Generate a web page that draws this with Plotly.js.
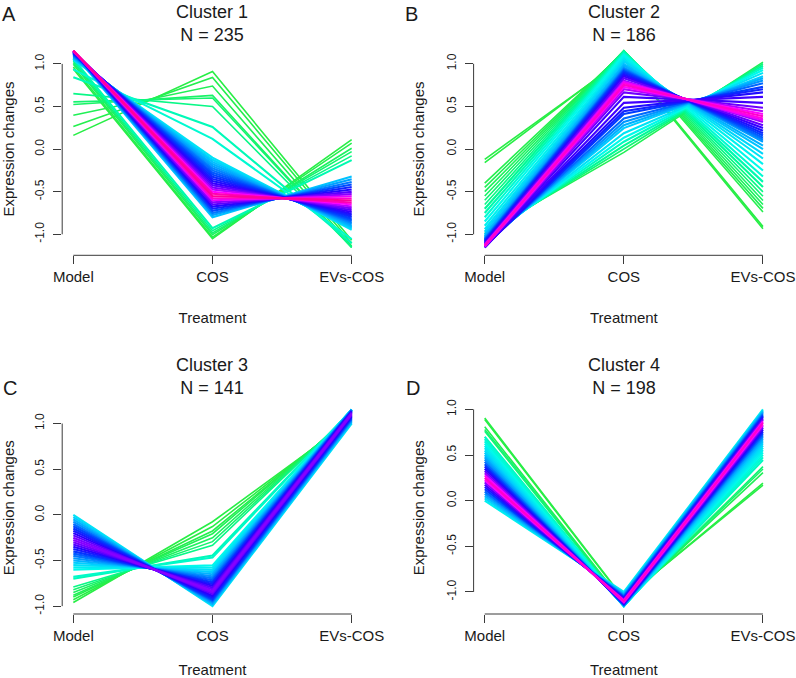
<!DOCTYPE html>
<html>
<head>
<meta charset="utf-8">
<script src="https://cdn.plot.ly/plotly-3.0.1.min.js"></script>
<style>
html,body{margin:0;padding:0;background:#ffffff;}
#chart{width:796px;height:678px;}
</style>
</head>
<body>
<div id="chart"></div>
<script>
// ---------------- data ----------------
const treatments = ["Model", "COS", "EVs-COS"];
const clusterNames = ["Cluster 1", "Cluster 2", "Cluster 3", "Cluster 4"];
const clusterSizes = [235, 186, 141, 198];
const panelLetters = ["A", "B", "C", "D"];
const yTickValues = [-1, -0.5, 0, 0.5, 1];
const yTickLabels = ["-1.0", "-0.5", "0.0", "0.5", "1.0"];
const xAxisTitle = "Treatment";
const yAxisTitle = "Expression changes";

// Cluster 1 (one entry per drawn profile)
const c1Model = [1.046,1.057,1.067,1.076,1.085,1.093,1.101,1.109,1.116,1.122,1.128,1.133,1.138,1.142,1.146,1.149,1.151,1.153,1.154,1.155,1.154,1.153,1.152,1.149,1.145,1.141,1.135,1.129,1.121,
  0.161,0.266,0.398,0.523,0.554,0.651,0.844,0.935,
  0.940,0.963,0.995,1.015,1.038,1.059];
const c1COS = [-0.100,-0.125,-0.150,-0.175,-0.200,-0.225,-0.250,-0.275,-0.300,-0.325,-0.350,-0.375,-0.400,-0.425,-0.450,-0.475,-0.500,-0.525,-0.550,-0.575,-0.600,-0.625,-0.650,-0.675,-0.700,-0.725,-0.750,-0.775,-0.800,
  0.910,0.840,0.740,0.630,0.600,0.500,0.260,0.120,
  -1.050,-1.033,-1.005,-0.985,-0.958,-0.929];
const c1EVs = [-0.946,-0.932,-0.917,-0.901,-0.885,-0.868,-0.851,-0.834,-0.816,-0.797,-0.778,-0.758,-0.738,-0.717,-0.696,-0.674,-0.651,-0.628,-0.604,-0.580,-0.554,-0.528,-0.502,-0.474,-0.445,-0.416,-0.385,-0.354,-0.321,
  -1.071,-1.106,-1.138,-1.153,-1.154,-1.151,-1.104,-1.055,
  0.110,0.070,0.010,-0.030,-0.080,-0.130];
const c1Membership = [0.45,0.48,0.52,0.55,0.58,0.62,0.65,0.68,0.71,0.74,0.77,0.80,0.83,0.86,0.89,0.92,0.95,0.98,0.99,0.97,0.94,0.90,0.86,0.81,0.76,0.70,0.64,0.58,0.52,
  0.20,0.21,0.22,0.24,0.25,0.28,0.34,0.37,
  0.20,0.21,0.23,0.25,0.28,0.33];

// Cluster 2
const c2Model = [-1.154,-1.150,-1.145,-1.140,-1.135,-1.130,-1.125,-1.120,-1.110,-1.100,-1.090,-1.080,-1.070,-1.060,-1.050,-1.040,-1.020,-1.000,-0.970,-0.940,-0.900,-0.850,-0.800,-0.750,-0.700,-0.650,-0.600,-0.550,-0.500,-0.450,-0.400,-0.160,-0.120,
  -1.154,-1.150,-1.145,-1.140,-1.130,-1.120,-1.110,-1.100,-1.080,-1.060,-1.040,-1.020,-1.000,-0.980];
const c2COS = [0.612,0.665,0.702,0.729,0.751,0.771,0.788,0.803,0.831,0.854,0.875,0.894,0.911,0.927,0.941,0.955,0.979,1.000,1.028,1.051,1.077,1.102,1.121,1.135,1.145,1.152,1.154,1.154,1.151,1.146,1.138,1.070,1.055,
  0.542,0.485,0.443,0.411,0.359,0.317,0.279,0.246,0.186,0.133,0.086,0.041,0.000,-0.039];
const c2EVs = [0.542,0.485,0.443,0.411,0.384,0.359,0.337,0.317,0.279,0.246,0.215,0.186,0.159,0.133,0.109,0.086,0.041,0.000,-0.058,-0.111,-0.177,-0.252,-0.321,-0.385,-0.445,-0.502,-0.554,-0.604,-0.651,-0.696,-0.738,-0.910,-0.935,
  0.612,0.665,0.702,0.729,0.771,0.803,0.831,0.854,0.894,0.927,0.955,0.979,1.000,1.019];
const c2Membership = [0.84,0.88,0.92,0.95,0.97,0.96,0.94,0.91,0.87,0.83,0.79,0.75,0.71,0.67,0.63,0.59,0.55,0.52,0.48,0.45,0.42,0.40,0.37,0.33,0.30,0.28,0.26,0.24,0.23,0.22,0.21,0.20,0.20,
  0.84,0.80,0.76,0.72,0.66,0.60,0.55,0.50,0.45,0.40,0.35,0.30,0.26,0.22];

// Cluster 3
const c3Model = [0.000,-0.025,-0.050,-0.075,-0.100,-0.125,-0.150,-0.175,-0.200,-0.225,-0.250,-0.275,-0.300,-0.325,-0.350,-0.375,-0.400,-0.425,-0.450,-0.475,-0.500,-0.525,-0.550,-0.575,-0.600,
  -0.680,-0.700,-0.790,-0.820,-0.850,-0.880,-0.900,-0.930,-0.960];
const c3COS = [-1.000,-0.987,-0.974,-0.960,-0.946,-0.932,-0.917,-0.901,-0.885,-0.868,-0.851,-0.834,-0.816,-0.797,-0.778,-0.758,-0.738,-0.717,-0.696,-0.674,-0.651,-0.628,-0.604,-0.580,-0.554,
  -0.468,-0.445,-0.334,-0.294,-0.252,-0.207,-0.177,-0.128,-0.076];
const c3EVs = [1.000,1.012,1.024,1.035,1.046,1.057,1.067,1.076,1.085,1.093,1.101,1.109,1.116,1.122,1.128,1.133,1.138,1.142,1.146,1.149,1.151,1.153,1.154,1.155,1.154,
  1.148,1.145,1.124,1.114,1.102,1.087,1.077,1.058,1.036];
const c3Membership = [0.45,0.50,0.55,0.60,0.65,0.70,0.74,0.78,0.82,0.86,0.89,0.90,0.88,0.85,0.81,0.77,0.73,0.68,0.64,0.60,0.55,0.50,0.46,0.43,0.40,
  0.36,0.34,0.28,0.25,0.23,0.22,0.21,0.20,0.20];

// Cluster 4
const c4Model = [0.000,0.025,0.050,0.075,0.100,0.125,0.150,0.175,0.200,0.225,0.250,0.275,0.300,0.325,0.350,0.375,0.400,0.425,0.450,0.475,0.500,0.525,0.550,0.575,0.600,0.625,0.650,0.675,0.700,
  0.760,0.780,0.810,0.890,0.905];
const c4COS = [-1.000,-1.012,-1.024,-1.035,-1.046,-1.057,-1.067,-1.076,-1.085,-1.093,-1.101,-1.109,-1.116,-1.122,-1.128,-1.133,-1.138,-1.142,-1.146,-1.149,-1.151,-1.153,-1.154,-1.155,-1.154,-1.153,-1.152,-1.149,-1.145,
  -1.133,-1.127,-1.118,-1.082,-1.074];
const c4EVs = [1.000,0.987,0.974,0.960,0.946,0.932,0.917,0.901,0.885,0.868,0.851,0.834,0.816,0.797,0.778,0.758,0.738,0.717,0.696,0.674,0.651,0.628,0.604,0.580,0.554,0.528,0.502,0.474,0.445,
  0.373,0.347,0.308,0.192,0.169];
const c4Membership = [0.42,0.48,0.54,0.60,0.66,0.72,0.78,0.84,0.90,0.95,0.97,0.95,0.91,0.86,0.81,0.76,0.70,0.65,0.60,0.56,0.52,0.49,0.46,0.44,0.42,0.40,0.38,0.37,0.35,
  0.26,0.24,0.22,0.20,0.20];

// ---------------- style ----------------
const FONT = "Liberation Sans, Arial, Helvetica, sans-serif";
const TEXT = "#1a1a1a";
const AXIS = "#3a3a3a";
const W = 796, H = 678;
// membership colour ramp (green -> cyan -> blue -> purple -> pink)
const ramp = [
  [0.20, [40, 238, 70]],
  [0.30, [0, 250, 150]],
  [0.40, [0, 250, 235]],
  [0.50, [0, 205, 255]],
  [0.60, [0, 150, 255]],
  [0.72, [0, 60, 255]],
  [0.82, [40, 0, 255]],
  [0.90, [135, 0, 255]],
  [0.95, [255, 0, 255]],
  [1.00, [255, 0, 128]]
];
function rampColor(m) {
  if (m <= ramp[0][0]) return "rgb(" + ramp[0][1].join(",") + ")";
  for (let i = 1; i < ramp.length; i++) {
    if (m <= ramp[i][0]) {
      const t = (m - ramp[i-1][0]) / (ramp[i][0] - ramp[i-1][0]);
      const c = ramp[i-1][1].map((v, j) => Math.round(v + t * (ramp[i][1][j] - v)));
      return "rgb(" + c.join(",") + ")";
    }
  }
  return "rgb(" + ramp[ramp.length-1][1].join(",") + ")";
}

const clusters = [
  {model: c1Model, cos: c1COS, evs: c1EVs, memb: c1Membership},
  {model: c2Model, cos: c2COS, evs: c2EVs, memb: c2Membership},
  {model: c3Model, cos: c3COS, evs: c3EVs, memb: c3Membership},
  {model: c4Model, cos: c4COS, evs: c4EVs, memb: c4Membership}
];

// panel placement in pixels: [left, right, top, bottom] of plot region
const panelBox = [
  [62.2, 362.8, 42.8, 255.3],
  [473.6, 774.1, 42.8, 255.3],
  [62.2, 362.8, 401.5, 614.0],
  [473.6, 774.1, 401.5, 614.0]
];
const letterPos = [[9, 14], [411.7, 14], [10, 388], [413, 388]];

const traces = [];
const layout = {
  width: W, height: H,
  margin: {l: 0, r: 0, t: 0, b: 0},
  paper_bgcolor: "#ffffff",
  plot_bgcolor: "rgba(0,0,0,0)",
  showlegend: false,
  font: {family: FONT, color: TEXT},
  shapes: [],
  annotations: []
};

clusters.forEach((cl, k) => {
  const n = k + 1;
  const xa = "x" + n, ya = "y" + n;
  const order = cl.memb.map((m, i) => i).sort((a, b) => cl.memb[a] - cl.memb[b]);
  order.forEach(i => {
    const m = cl.memb[i];
    traces.push({
      type: "scatter", mode: "lines",
      x: treatments,
      y: [cl.model[i], cl.cos[i], cl.evs[i]],
      xaxis: xa, yaxis: ya,
      line: {color: rampColor(m), width: m < 0.3 ? 1.6 : 2.1},
      hoverinfo: "skip"
    });
  });
  const all = cl.model.concat(cl.cos, cl.evs);
  const lo = Math.min(...all), hi = Math.max(...all);
  const pad = 0.04 * (hi - lo);
  const box = panelBox[k];
  const xName = k === 0 ? "xaxis" : "xaxis" + n;
  const yName = k === 0 ? "yaxis" : "yaxis" + n;
  layout[xName] = {
    domain: [box[0] / W, box[1] / W],
    anchor: ya,
    type: "category",
    categoryorder: "array",
    categoryarray: treatments,
    range: [-0.08, treatments.length - 1 + 0.08],
    showline: false, showgrid: false, zeroline: false,
    ticks: "outside", ticklen: 8, tickwidth: 1, tickcolor: AXIS,
    tickfont: {size: 15, family: FONT, color: TEXT},
    ticklabelstandoff: 0,
    automargin: false,
    fixedrange: true,
    title: {text: xAxisTitle, font: {size: 15, family: FONT, color: TEXT}, standoff: 28}
  };
  layout[yName] = {
    domain: [1 - box[3] / H, 1 - box[2] / H],
    anchor: xa,
    range: [lo - pad, hi + pad],
    tickvals: yTickValues, ticktext: yTickLabels,
    tickangle: -90,
    showline: false, showgrid: false, zeroline: false,
    ticks: "outside", ticklen: 8, tickwidth: 1, tickcolor: AXIS,
    tickfont: {size: 12, family: FONT, color: TEXT},
    ticklabelstandoff: 4,
    automargin: false,
    fixedrange: true,
    title: {text: yAxisTitle, font: {size: 15, family: FONT, color: TEXT}, standoff: 16}
  };
  // R-style axis lines spanning only the tick range
  layout.shapes.push({type: "line", xref: xa + " domain", yref: ya, x0: 0, x1: 0,
    y0: yTickValues[0], y1: yTickValues[yTickValues.length - 1], line: {color: AXIS, width: 1}});
  layout.shapes.push({type: "line", xref: xa, yref: ya + " domain", x0: treatments[0], x1: treatments[treatments.length - 1],
    y0: 0, y1: 0, line: {color: AXIS, width: 1}});
  // panel title
  const top = k < 2;
  layout.annotations.push({
    xref: "paper", yref: "paper",
    x: (box[0] + box[1]) / 2 / W,
    y: top ? 1 : 1 - 376.5 / H,
    xanchor: "center", yanchor: top ? "top" : "middle", showarrow: false,
    text: clusterNames[k] + "<br>N = " + clusterSizes[k],
    font: {size: 18, family: FONT, color: TEXT}
  });
  // panel letter
  layout.annotations.push({
    xref: "paper", yref: "paper",
    x: letterPos[k][0] / W, y: 1 - letterPos[k][1] / H,
    xanchor: "center", yanchor: "middle", showarrow: false,
    text: panelLetters[k],
    font: {size: 20, family: FONT, color: TEXT}
  });
});

Plotly.newPlot("chart", traces, layout, {staticPlot: true, displayModeBar: false});
</script>
</body>
</html>
